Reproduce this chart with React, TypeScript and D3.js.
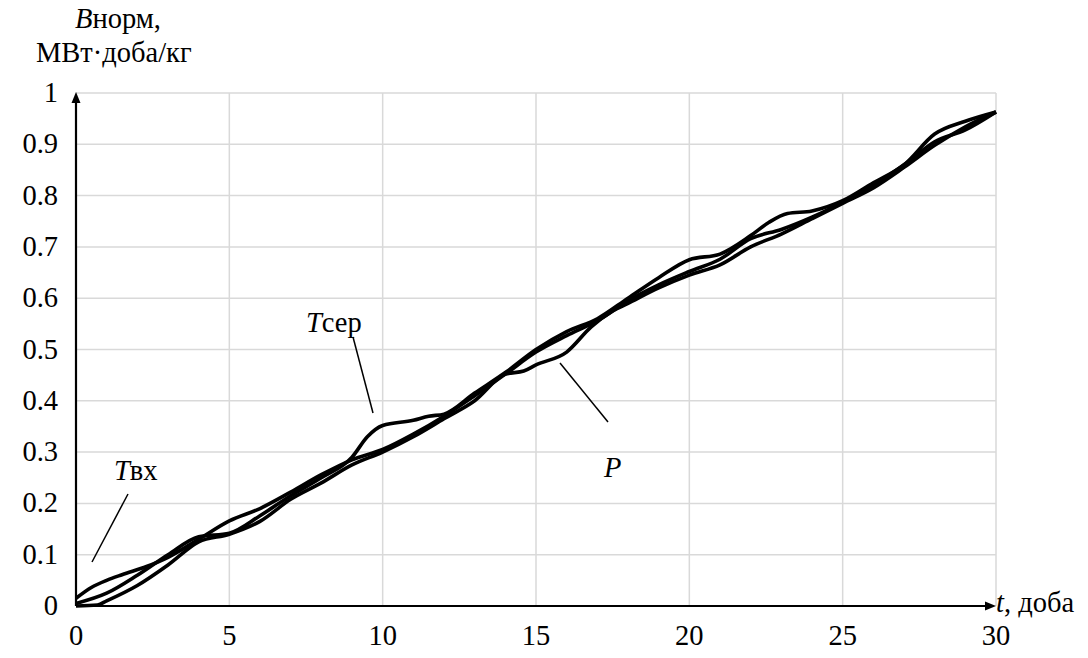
import React from "react";
import * as d3 from "d3";

const W = 1088;
const H = 658;

const xTicks = [0, 5, 10, 15, 20, 25, 30];
const yTicks = [0, 0.1, 0.2, 0.3, 0.4, 0.5, 0.6, 0.7, 0.8, 0.9, 1];

// Tвх series
const tVx = [0, 0.5, 1, 1.5, 2.3, 3, 4, 5, 6, 7, 8, 9, 10, 11, 12, 13, 14, 15, 16, 17, 18, 19, 20, 21, 22, 23, 24, 25, 26, 27, 28, 29, 30];
const vVx = [0.015, 0.036, 0.05, 0.061, 0.077, 0.095, 0.13, 0.166, 0.19, 0.222, 0.256, 0.285, 0.305, 0.335, 0.37, 0.41, 0.452, 0.495, 0.527, 0.556, 0.595, 0.626, 0.652, 0.676, 0.716, 0.734, 0.758, 0.787, 0.82, 0.86, 0.905, 0.928, 0.963];

// Tсер series
const tSer = [0, 1, 2, 3, 4, 5, 6, 7, 8, 9, 9.5, 10, 11, 11.5, 12, 13, 14, 15, 16, 17, 18, 19, 20, 21, 22, 22.6, 23.2, 24, 25, 26, 27, 28, 29, 30];
const vSer = [0.005, 0.025, 0.06, 0.1, 0.135, 0.142, 0.176, 0.215, 0.25, 0.29, 0.33, 0.352, 0.362, 0.37, 0.374, 0.415, 0.455, 0.5, 0.535, 0.56, 0.6, 0.64, 0.675, 0.686, 0.722, 0.748, 0.765, 0.77, 0.79, 0.825, 0.86, 0.92, 0.945, 0.963];

// P series
const tP = [0, 0.7, 1, 2, 3, 4, 5, 6, 7, 8, 9, 10, 11, 12, 13, 14, 14.6, 15, 16, 16.8, 17.5, 18, 19, 20, 21, 22, 23, 24, 25, 26, 27, 28, 29, 30];
const vP = [0, 0.002, 0.01, 0.04, 0.08, 0.125, 0.14, 0.165, 0.208, 0.24, 0.275, 0.3, 0.33, 0.365, 0.4, 0.452, 0.458, 0.47, 0.495, 0.544, 0.575, 0.59, 0.62, 0.645, 0.665, 0.7, 0.725, 0.755, 0.785, 0.815, 0.855, 0.898, 0.934, 0.963];

const seriesList = [
  { name: "Tвх", t: tVx, v: vVx },
  { name: "Tсер", t: tSer, v: vSer },
  { name: "P", t: tP, v: vP },
];

const FF = "Liberation Serif";
const FS = 28.5;

export default function App() {
  const x = d3.scaleLinear().domain([0, 30]).range([76, 996]);
  const y = d3.scaleLinear().domain([0, 1]).range([606, 93]);

  const line = d3
    .line<[number, number]>()
    .x((d) => x(d[0]))
    .y((d) => y(d[1]))
    .curve(d3.curveMonotoneX);

  return (
    <svg width={W} height={H} style={{ position: "absolute", left: 0, top: 0, background: "#fff" }}>
      <rect x={0} y={0} width={W} height={H} fill="#fff" />
      {/* grid */}
      {xTicks.slice(1).map((t) => (
        <line key={"gx" + t} x1={x(t)} x2={x(t)} y1={y(0)} y2={y(1)} stroke="#d9d9d9" strokeWidth={1.5} />
      ))}
      {yTicks.slice(1).map((v) => (
        <line key={"gy" + v} x1={x(0)} x2={x(30)} y1={y(v)} y2={y(v)} stroke="#d9d9d9" strokeWidth={1.5} />
      ))}

      {/* series */}
      {seriesList.map((s) => (
        <path
          key={s.name}
          d={line(s.t.map((t, i) => [t, s.v[i]] as [number, number])) || ""}
          fill="none"
          stroke="#000"
          strokeWidth={3.6}
          strokeLinejoin="round"
        />
      ))}

      {/* axes */}
      <line x1={x(0)} x2={x(30) - 8} y1={y(0)} y2={y(0)} stroke="#000" strokeWidth={2.2} />
      <path d={`M${x(30)},${y(0)} L${x(30) - 11},${y(0) - 4.5} L${x(30) - 11},${y(0) + 4.5} Z`} fill="#000" />
      <line x1={x(0)} x2={x(0)} y1={y(0)} y2={y(1) + 8} stroke="#000" strokeWidth={2.2} />
      <path d={`M${x(0)},${y(1) - 1} L${x(0) - 4.5},${y(1) + 10} L${x(0) + 4.5},${y(1) + 10} Z`} fill="#000" />

      {/* tick labels */}
      {xTicks.map((t) => (
        <text key={"xt" + t} x={x(t)} y={645} textAnchor="middle" fontFamily={FF} fontSize={FS} fill="#000">
          {t}
        </text>
      ))}
      {yTicks.map((v) => (
        <text key={"yt" + v} x={58} y={y(v) + 9} textAnchor="end" fontFamily={FF} fontSize={FS} fill="#000">
          {v === 0 ? "0" : v === 1 ? "1" : v.toFixed(1)}
        </text>
      ))}

      {/* axis titles */}
      <text x={75} y={28} fontFamily={FF} fontSize={FS} fill="#000">
        <tspan fontStyle="italic">B</tspan>
        <tspan>норм,</tspan>
      </text>
      <text x={36} y={62} fontFamily={FF} fontSize={FS} fill="#000">
        МВт·доба/кг
      </text>
      <text x={996} y={612} fontFamily={FF} fontSize={FS} fill="#000">
        <tspan fontStyle="italic">t</tspan>
        <tspan>, доба</tspan>
      </text>

      {/* annotations */}
      <text x={114} y={480} fontFamily={FF} fontSize={FS} fill="#000">
        <tspan fontStyle="italic">T</tspan>
        <tspan>вх</tspan>
      </text>
      <line x1={128} y1={494} x2={92} y2={562} stroke="#000" strokeWidth={1.5} />

      <text x={306} y={332} fontFamily={FF} fontSize={FS} fill="#000">
        <tspan fontStyle="italic">T</tspan>
        <tspan>сер</tspan>
      </text>
      <line x1={353} y1={337} x2={373} y2={413} stroke="#000" strokeWidth={1.5} />

      <text x={604} y={477} fontFamily={FF} fontSize={FS} fill="#000" fontStyle="italic">
        P
      </text>
      <line x1={560} y1={363} x2={608} y2={422} stroke="#000" strokeWidth={1.5} />
    </svg>
  );
}
